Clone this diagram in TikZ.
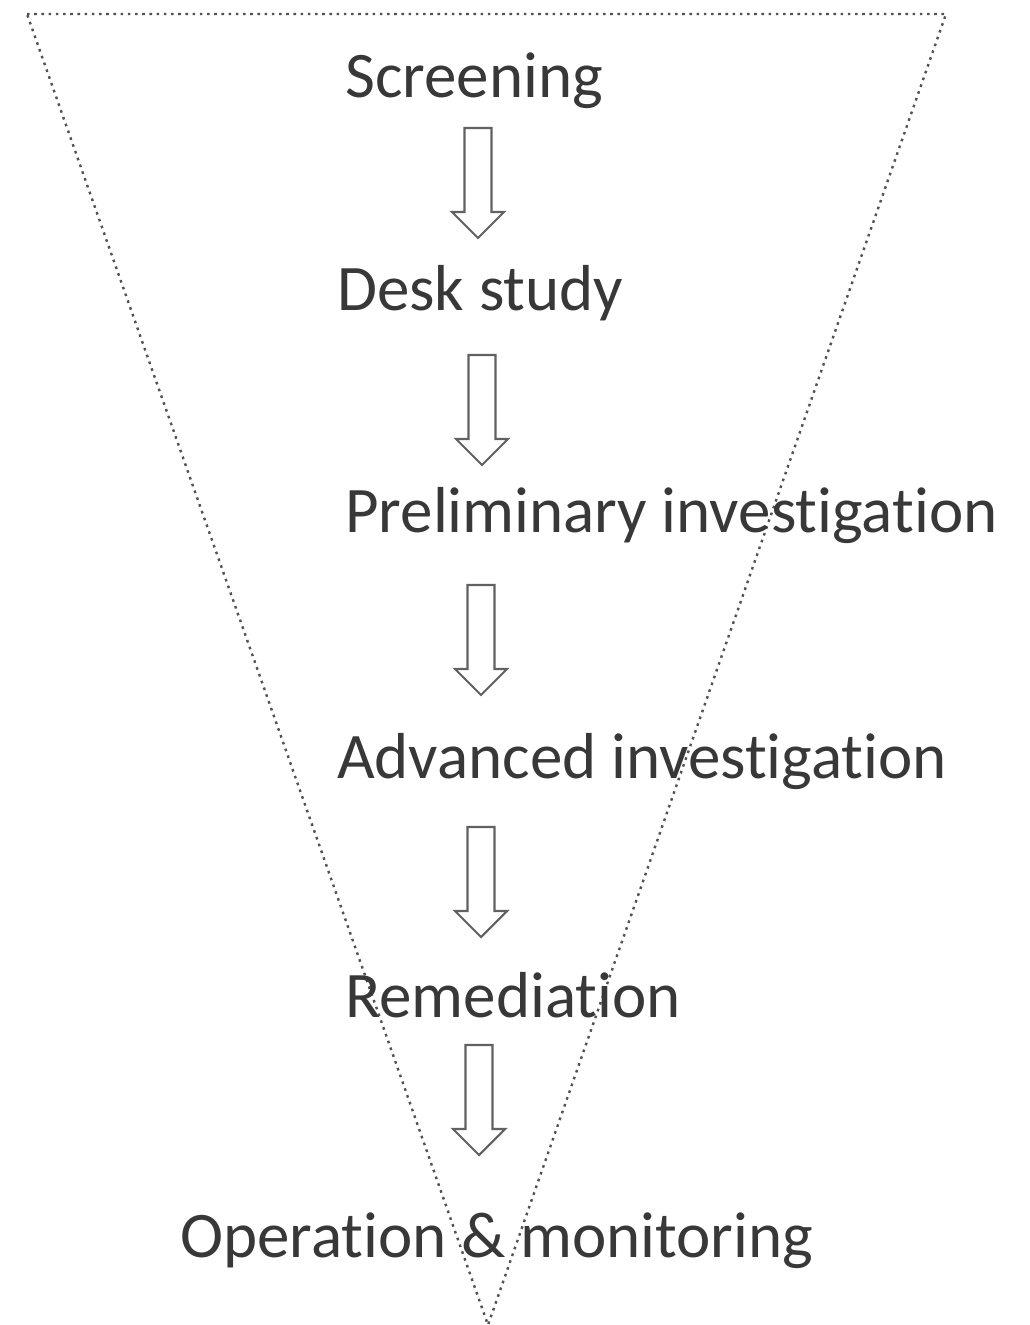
\documentclass[tikz,border=0pt]{standalone}
\usepackage{fontspec}
\setmainfont{Carlito}[Ligatures={NoCommon}]
\begin{document}
\begin{tikzpicture}[x=1pt,y=-1pt,
  lbl/.style={anchor=base west,inner sep=0pt,font=\fontsize{65}{72}\selectfont,text=black!78},
  funnel/.style={draw=black!68,line width=2.4pt,dash pattern=on 2.6pt off 4.6pt},
  barrow/.style={draw=black!62,line width=2.1pt,fill=white,line join=miter}]
\useasboundingbox (0,0) rectangle (1030,1325);
\newcommand\blockarrow[2]{% center x, top y
  \draw[barrow] (#1-13.5,#2) -- (#1+13.5,#2) -- (#1+13.5,#2+84) -- (#1+26,#2+84)
    -- (#1,#2+110) -- (#1-26,#2+84) -- (#1-13.5,#2+84) -- cycle;}
\coordinate (tl) at (27,14);
\coordinate (tr) at (946,14);
\coordinate (bt) at (488,1325);
\draw[funnel] (tl) -- (tr) -- (bt) -- cycle;
\blockarrow{478}{128}
\blockarrow{482}{355}
\blockarrow{481}{585}
\blockarrow{481}{827}
\blockarrow{479}{1045}
\node[lbl] (s1) at (345,97) {Screening};
\node[lbl] (s2) at (337,310) {Desk study};
\node[lbl] (s3) at (345,532) {Preliminary investigation};
\node[lbl] (s4) at (337,778) {Advanced investigation};
\node[lbl] (s5) at (345,1017) {Remediation};
\node[lbl] (s6) at (180,1257) {Operation \& monitoring};
\end{tikzpicture}
\end{document}
